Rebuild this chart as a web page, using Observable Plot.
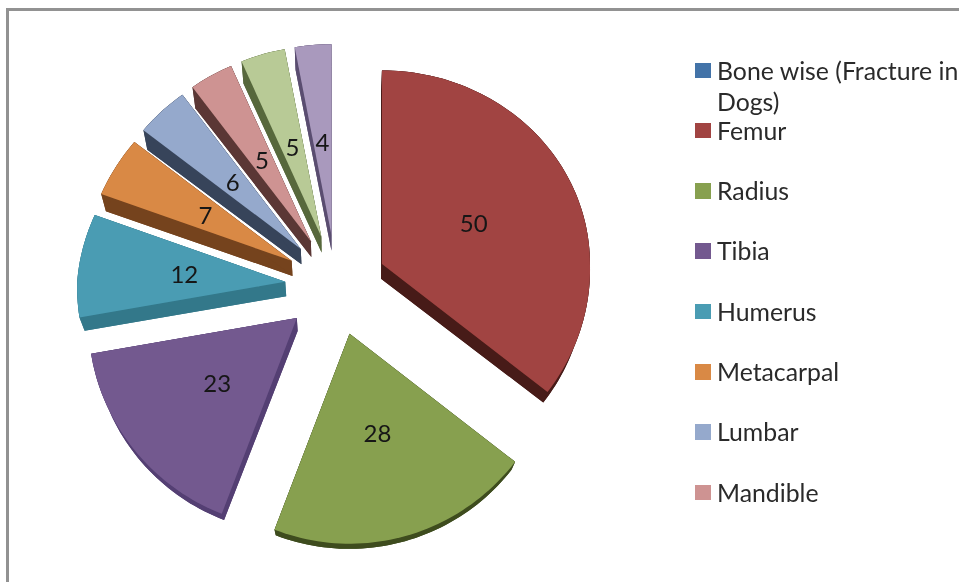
<!DOCTYPE html>
<html>
<head>
<meta charset="utf-8">
<script src="https://cdn.jsdelivr.net/npm/d3@7"></script>
<script src="https://cdn.jsdelivr.net/npm/@observablehq/plot@0.6"></script>
<style>
html,body{margin:0;padding:0;background:#fff;overflow:hidden}
#stage{position:relative;width:959px;height:582px;overflow:hidden;font-family:Lato,sans-serif;filter:blur(.35px)}
#frame{position:absolute;left:6px;top:8px;right:-4px;bottom:-4px;border-left:3px solid #929292;border-top:3px solid #929292}
#chart{position:absolute;left:0;top:0}
.row{position:absolute;left:695px;width:262px;font-size:24.8px;line-height:31.5px;color:#2a2a2a}
.sw{position:absolute;left:0;top:0;width:15.5px;height:15.5px}
.lb{position:absolute;left:22px;top:-8px;width:245px}
</style>
</head>
<body>
<div id="stage"><div id="frame"></div><div id="chart"></div></div>
<script>
// Data
const categories = ["Femur","Radius","Tibia","Humerus","Metacarpal","Lumbar","Mandible","Slice 8","Slice 9"];
const counts = [50,28,23,12,7,6,5,5,4];
const topColors = ["#A14442","#87A04F","#73598F","#4A9CB3","#D98945","#95A9CC","#CE9392","#B8CA96","#A999BD"];
const sideColors = ["#471B18","#3E4C1E","#543F73","#33788A","#75431D","#37445A","#5B3735","#57683C","#5A4D70"];
const legendNames = ["Bone wise (Fracture in Dogs)","Femur","Radius","Tibia","Humerus","Metacarpal","Lumbar","Mandible"];
const headerColor = "#4373A8";

// Layout of the exploded, tilted pie (a simple perspective approximation)
const view = {w:959,h:582};
const pie = {cx:335.5,cy:286,ex:51,eyUp:52,eyDown:49,
             vx:335,vy:290,sx:.98,sy:.965,drop:14,label:.49};
const total = d3.sum(counts);
const deg = Math.PI/180;
function offset(a){
  const s=Math.sin(a), c=Math.cos(a);
  let rx=208, ry;
  if (c<0) { rx=208-6*c; ry=198-12*c; }
  else { ry = s>=0 ? 193.5 : 190.5; if (s<0) rx=208+14*s*c; }
  return [rx*s, -c*ry];
}

let cum = 0;
const slices = categories.map((name,i)=>{
  const a0 = cum/total*2*Math.PI; cum += counts[i];
  const a1 = cum/total*2*Math.PI; const mid=(a0+a1)/2;
  const mc=Math.cos(mid);
  const apex=[pie.cx+pie.ex*Math.sin(mid), pie.cy-mc*(mc>0?pie.eyUp:pie.eyDown)];
  const n=Math.max(4,Math.ceil((a1-a0)/(1.5*deg)));
  const arc=d3.range(n+1).map(k=>{
    const a=a0+(a1-a0)*k/n, [dx,dy]=offset(a);
    return [apex[0]+dx,apex[1]+dy];
  });
  const [lx,ly]=offset(mid);
  return {name,value:counts[i],apex,arc,label:[apex[0]+lx*pie.label,apex[1]+ly*pie.label]};
});
const lower=p=>[pie.vx+(p[0]-pie.vx)*pie.sx, pie.vy+(p[1]-pie.vy)*pie.sy+pie.drop];

const topPts=[], sidePts=[];
const push=(arr,key,fill,poly)=>poly.forEach(p=>arr.push({key,fill,x:p[0],y:p[1]}));
slices.forEach(s=>{
  const f=s.name+" side";
  const low=s.arc.map(lower), la=lower(s.apex);
  push(sidePts,f+"0",f,[s.apex,...s.arc]);
  push(sidePts,f+"1",f,[la,...low]);
  push(sidePts,f+"2",f,[s.apex,s.arc[0],low[0],la]);
  push(sidePts,f+"3",f,[s.apex,s.arc[s.arc.length-1],low[low.length-1],la]);
  push(sidePts,f+"4",f,[...s.arc,...low.slice().reverse()]);
  push(topPts,s.name,s.name,[s.apex,...s.arc]);
});

const plot = Plot.plot({
  width:view.w,height:view.h,margin:0,
  style:{background:"transparent",overflow:"visible"},
  x:{domain:[0,view.w],range:[0,view.w],axis:null},
  y:{domain:[0,view.h],range:[0,view.h],axis:null},
  color:{domain:["Bone wise",...categories,...categories.map(c=>c+" side")],
         range:[headerColor,...topColors,...sideColors]},
  marks:[
    Plot.line(sidePts,{x:"x",y:"y",z:"key",fill:"fill",stroke:"none"}),
    Plot.line(topPts,{x:"x",y:"y",z:"key",fill:"fill",stroke:"none"}),
    Plot.text(slices,{x:d=>d.label[0],y:d=>d.label[1],dy:1.5,text:d=>String(d.value),
      fontFamily:"Lato",fontSize:24,fill:"#161616"})
  ]
});
document.getElementById("chart").appendChild(plot);

// Legend
const colorOf = plot.scale("color");
const stage=document.getElementById("stage");
legendNames.forEach((name,i)=>{
  const row=document.createElement("div");row.className="row";
  row.style.top=(62.5+60.3*i)+"px";
  const sw=document.createElement("div");sw.className="sw";
  sw.style.background=colorOf.apply(i===0?"Bone wise":name);
  const lb=document.createElement("div");lb.className="lb";lb.textContent=name;
  row.append(sw,lb);stage.appendChild(row);
});
</script>
</body>
</html>
